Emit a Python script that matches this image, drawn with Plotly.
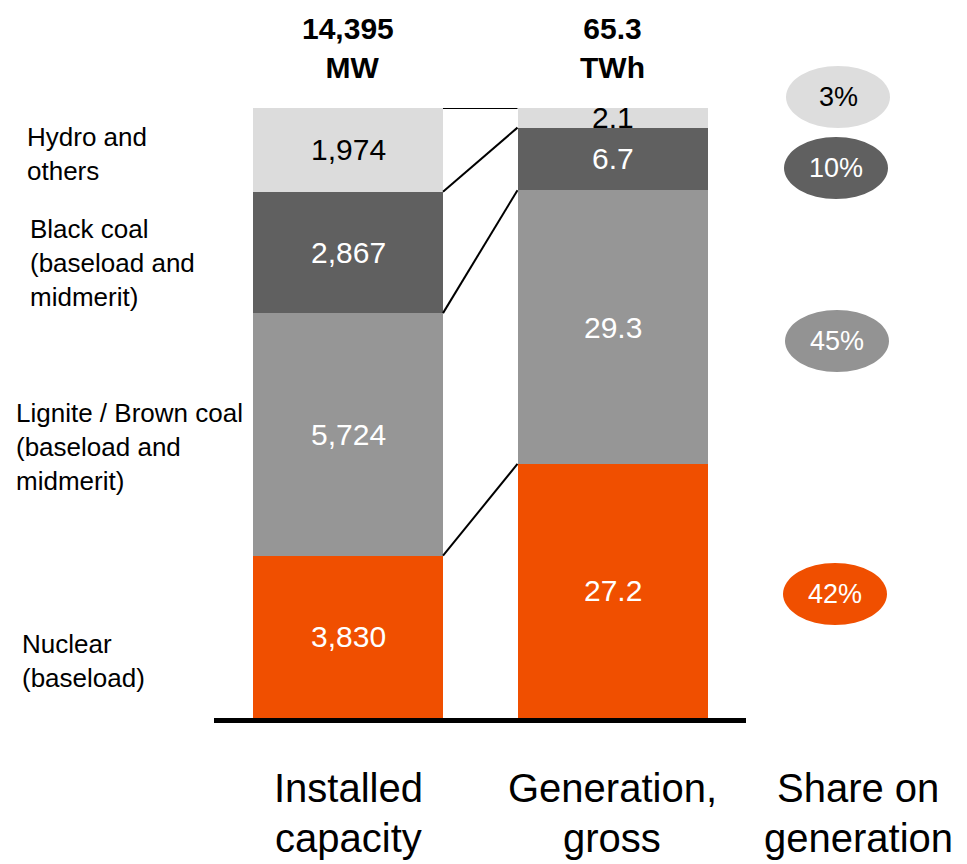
import plotly.graph_objects as go

# ---------------- data ----------------
segments = ["Nuclear", "Lignite", "Black coal", "Hydro and others"]
capacity_mw = [3830, 5724, 2867, 1974]
generation_twh = [27.2, 29.3, 6.7, 2.1]
capacity_labels = ["3,830", "5,724", "2,867", "1,974"]
generation_labels = ["27.2", "29.3", "6.7", "2.1"]
share_labels = ["42%", "45%", "10%", "3%"]
total_labels = ["14,395<br> MW", "65.3<br>TWh"]
left_labels = ["Nuclear<br>(baseload)",
               "Lignite / Brown coal<br>(baseload and<br>midmerit)",
               "Black coal<br>(baseload and<br>midmerit)",
               "Hydro and<br>others"]
bottom_labels = [["Installed", "capacity"], ["Generation,", "gross"], ["Share on", "generation"]]

# ---------------- styles ----------------
colors = ["#F04F00", "#969696", "#606060", "#DCDCDC"]
ellipse_colors = ["#F04F00", "#939393", "#606060", "#DDDDDD"]
inside_text_colors = ["white", "white", "white", "black"]
FONT = "Liberation Sans, Arial, sans-serif"
W, H = 967, 864
BAR_Y0, BAR_Y1 = 718, 108          # pixel rows for 0 % and 100 %
X0_PX, STEP_PX = 348, 264.5        # pixel column of bar 0 centre, distance between bars
BAR_W = 190 / STEP_PX

def py(p):   # pixel row -> paper y
    return 1 - p / H

def px(p):   # pixel col -> paper x
    return p / W

cap_total = sum(capacity_mw)
gen_total = sum(generation_twh)
cap_pct = [v / cap_total * 100 for v in capacity_mw]
gen_pct = [v / gen_total * 100 for v in generation_twh]

fig = go.Figure()
for i, name in enumerate(segments):
    fig.add_trace(go.Bar(
        x=[0, 1], y=[cap_pct[i], gen_pct[i]], width=BAR_W,
        marker=dict(color=colors[i], line=dict(width=0)),
        name=name, showlegend=False, hoverinfo="skip"))

annotations = []
shapes = []

def cum(lst):
    out, s = [], 0
    for v in lst:
        out.append((s, s + v))
        s += v
    return out

# value labels inside bars (centred in each segment)
for xi, pcts, labels in [(0, cap_pct, capacity_labels), (1, gen_pct, generation_labels)]:
    for i, (a, b) in enumerate(cum(pcts)):
        annotations.append(dict(x=xi, y=(a + b) / 2, xref="x", yref="y", text=labels[i],
                                showarrow=False, font=dict(family=FONT, size=30, color=inside_text_colors[i]),
                                xanchor="center", yanchor="middle"))

# connector lines between bars
cap_bounds = [b for a, b in cum(cap_pct)]
gen_bounds = [b for a, b in cum(gen_pct)]
for cb, gb in zip(cap_bounds, gen_bounds):
    shapes.append(dict(type="line", xref="x", yref="y", x0=BAR_W / 2, x1=1 - BAR_W / 2,
                       y0=cb, y1=gb, line=dict(color="black", width=2)))

# baseline (paper-referenced so it is not clipped by the plot area)
shapes.append(dict(type="line", xref="paper", yref="paper", x0=px(214), x1=px(746),
                   y0=py(BAR_Y0 + 2.5), y1=py(BAR_Y0 + 2.5),
                   line=dict(color="black", width=5)))

# totals above bars
for xi, t in enumerate(total_labels):
    annotations.append(dict(x=px(X0_PX + xi * STEP_PX), y=py(48), xref="paper", yref="paper", text="<b>" + t + "</b>",
                            showarrow=False, font=dict(family=FONT, size=30, color="black"),
                            xanchor="center", yanchor="middle"))

# left segment labels
left_pos = [(20, 660.5), (14, 447), (28, 263), (25, 154.5)]
for lab, (lx, ly) in zip(left_labels, left_pos):
    annotations.append(dict(x=px(lx), y=py(ly), xref="paper", yref="paper", text=lab, align="left",
                            showarrow=False, font=dict(family=FONT, size=26, color="black"),
                            xanchor="left", yanchor="middle"))

# share ellipses
ell_pos = [(835, 594), (837, 341), (836, 168), (838, 97)]
ell_text_colors = ["white", "white", "white", "black"]
for i, (ex, ey) in enumerate(ell_pos):
    shapes.append(dict(type="circle", xref="paper", yref="paper",
                       x0=px(ex - 52), x1=px(ex + 52), y0=py(ey + 31), y1=py(ey - 31),
                       fillcolor=ellipse_colors[i], line=dict(width=0), layer="below"))
    annotations.append(dict(x=px(ex), y=py(ey), xref="paper", yref="paper", text=share_labels[i],
                            showarrow=False, font=dict(family=FONT, size=27, color=ell_text_colors[i]),
                            xanchor="center", yanchor="middle"))

# bottom category labels
bottom_x = [348, 612, 858]
for bx, lines in zip(bottom_x, bottom_labels):
    for j, line in enumerate(lines):
        annotations.append(dict(x=px(bx), y=py(788 + 50 * j), xref="paper", yref="paper", text=line,
                                showarrow=False,
                                font=dict(family=FONT, size=40, color="black"),
                                xanchor="center", yanchor="middle"))

fig.update_layout(
    barmode="stack", width=W, height=H,
    margin=dict(l=0, r=0, t=0, b=0),
    paper_bgcolor="white", plot_bgcolor="white",
    xaxis=dict(range=[-X0_PX / STEP_PX, (W - X0_PX) / STEP_PX], visible=False, fixedrange=True),
    yaxis=dict(range=[0, 100], domain=[1 - BAR_Y0 / H, 1 - BAR_Y1 / H], visible=False, fixedrange=True),
    annotations=annotations, shapes=shapes, showlegend=False,
)
fig.write_html("out.html", config={"displayModeBar": False},
               post_script="document.body.style.margin='0';document.body.style.overflow='hidden';")
